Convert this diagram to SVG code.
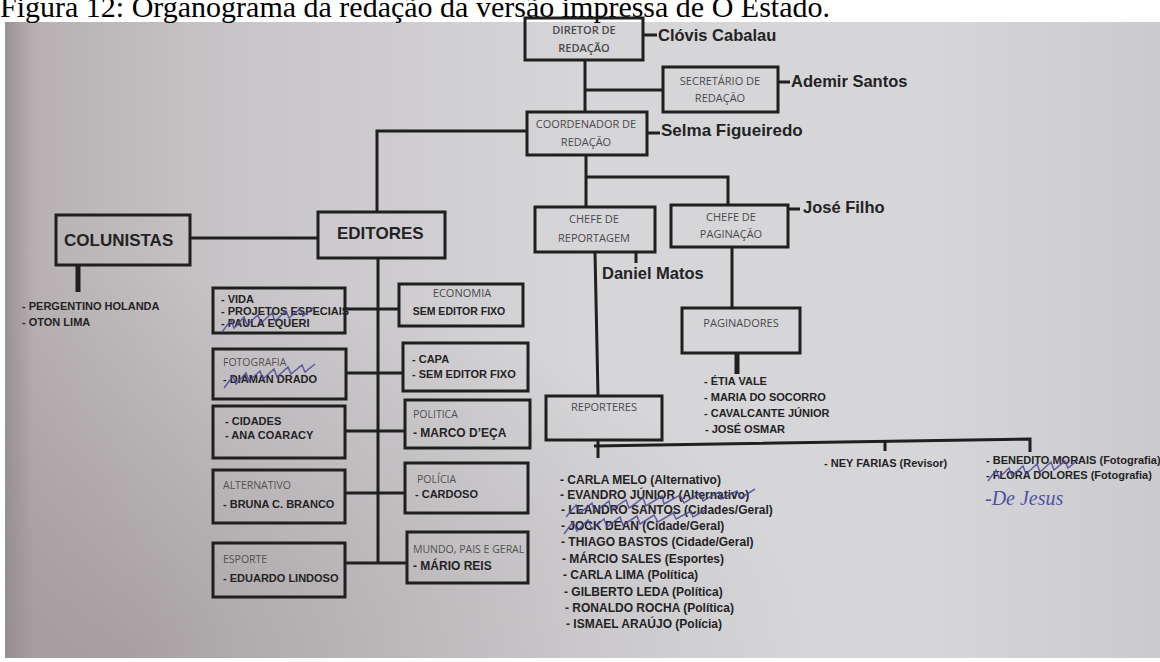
<svg xmlns="http://www.w3.org/2000/svg" width="1160" height="662" viewBox="0 0 1160 662">
<defs>
<linearGradient id="paper" x1="0" y1="0" x2="1" y2="0">
<stop offset="0" stop-color="#9a9294"/>
<stop offset="0.025" stop-color="#b7b1b3"/>
<stop offset="0.2" stop-color="#c8c5c8"/>
<stop offset="0.5" stop-color="#d6d5d8"/>
<stop offset="0.8" stop-color="#d6d6d9"/>
<stop offset="1" stop-color="#cbcbcf"/>
</linearGradient>
<radialGradient id="vig" cx="0.1" cy="1" r="0.6">
<stop offset="0" stop-color="#8e8688" stop-opacity="0.5"/>
<stop offset="1" stop-color="#8e8688" stop-opacity="0"/>
</radialGradient>
</defs>
<style>
.box{fill:none;stroke:#1f1f1f;stroke-width:3}
.ln{fill:none;stroke:#1f1f1f;stroke-width:3}
.tk{fill:none;stroke:#1f1f1f;stroke-width:5}
.lbl{font-family:"Open Sans","Liberation Sans",sans-serif;font-size:10.5px;fill:#505050}
.lblc{font-family:"Open Sans","Liberation Sans",sans-serif;font-size:11px;fill:#4a4a4a;text-anchor:middle}
.b{font-family:"Liberation Sans",Arial,sans-serif;font-weight:700;fill:#232323}
.nm{font-size:16.5px}
.it{font-size:11px}
.rp{font-size:12px}
.big{font-size:17px}
.scr{fill:none;stroke:#4b4897;stroke-width:1.5;stroke-opacity:0.85}
.cap{font-family:"Liberation Serif","Times New Roman",serif;font-size:30px;fill:#000}
</style>
<rect width="1160" height="662" fill="#ffffff"/>
<rect x="5" y="22" width="1155" height="636" fill="url(#paper)"/>
<rect x="5" y="22" width="1155" height="636" fill="url(#vig)"/>
<text class="cap" x="0" y="17">Figura 12: Organograma da redação da versão impressa de O Estado.</text>

<g id="connectors">
<path class="ln" d="M585,60 V112"/>
<path class="ln" d="M585,90 H663"/>
<path class="ln" d="M643,35 H657"/>
<path class="ln" d="M778,82 H790"/>
<path class="ln" d="M647,133 H660"/>
<path class="ln" d="M527,131 H377 V212"/>
<path class="ln" d="M586,155 V207"/>
<path class="ln" d="M586,177 H728 V205"/>
<path class="ln" d="M788,209 H800"/>
<path class="ln" d="M636,252 V263"/>
<path class="ln" d="M595,252 L598,396"/>
<path class="ln" d="M732,247 V308"/>
<path class="tk" d="M737,353 V374"/>
<path class="ln" d="M190,238 H318"/>
<path class="tk" d="M78,265 V292"/>
<path class="ln" d="M378,258 V563"/>
<path class="ln" d="M345,309 H399"/>
<path class="ln" d="M346,373 H403"/>
<path class="ln" d="M345,431 H405"/>
<path class="ln" d="M345,493 H405"/>
<path class="ln" d="M345,563 H407"/>
<path class="ln" d="M598,440 V458"/>
<path class="ln" d="M594,446 L1030,439 V452"/>
<path class="ln" d="M885,441 V451"/>
</g>

<g id="diretor">
<rect class="box" x="525" y="18" width="118" height="42"/>
<text class="lblc" x="584" y="34" font-weight="600">DIRETOR DE</text>
<text class="lblc" x="584" y="52" font-weight="600">REDAÇÃO</text>
<text class="b nm" x="658" y="41">Clóvis Cabalau</text>
</g>

<g id="secretario">
<rect class="box" x="663" y="67" width="115" height="45"/>
<text class="lblc" x="720" y="85">SECRETÁRIO DE</text>
<text class="lblc" x="720" y="102">REDAÇÃO</text>
<text class="b nm" x="791" y="87">Ademir Santos</text>
</g>

<g id="coordenador">
<rect class="box" x="527" y="112" width="120" height="43"/>
<text class="lblc" x="586" y="128">COORDENADOR DE</text>
<text class="lblc" x="586" y="146">REDAÇÃO</text>
<text class="b big" x="661" y="136">Selma Figueiredo</text>
</g>

<g id="chefe-reportagem">
<rect class="box" x="535" y="207" width="120" height="45"/>
<text class="lblc" x="594" y="223">CHEFE DE</text>
<text class="lblc" x="594" y="242">REPORTAGEM</text>
<text class="b nm" x="602" y="279">Daniel Matos</text>
</g>

<g id="chefe-paginacao">
<rect class="box" x="671" y="205" width="117" height="42"/>
<text class="lblc" x="731" y="221">CHEFE DE</text>
<text class="lblc" x="731" y="238">PAGINAÇÃO</text>
<text class="b nm" x="803" y="213">José Filho</text>
</g>

<g id="colunistas">
<rect class="box" x="56" y="215" width="134" height="50"/>
<text class="b big" x="64" y="246">COLUNISTAS</text>
<text class="b it" x="22" y="310">- PERGENTINO HOLANDA</text>
<text class="b it" x="22" y="326">- OTON LIMA</text>
</g>

<g id="editores">
<rect class="box" x="318" y="212" width="127" height="46"/>
<text class="b big" x="337" y="239">EDITORES</text>
</g>

<g id="paginadores">
<rect class="box" x="682" y="308" width="118" height="45"/>
<text class="lblc" x="741" y="327">PAGINADORES</text>
<text class="b it" x="704" y="385">- ÉTIA VALE</text>
<text class="b it" x="704" y="401">- MARIA DO SOCORRO</text>
<text class="b it" x="704" y="417">- CAVALCANTE JÚNIOR</text>
<text class="b it" x="705" y="433">- JOSÉ OSMAR</text>
</g>

<g id="reporteres">
<rect class="box" x="546" y="396" width="116" height="44"/>
<text class="lblc" x="604" y="411">REPORTERES</text>
<text class="b rp" x="560" y="484">- CARLA MELO (Alternativo)</text>
<text class="b rp" x="560" y="499">- EVANDRO JÚNIOR (Alternativo)</text>
<text class="b rp" x="561" y="514">- LEANDRO SANTOS (Cidades/Geral)</text>
<text class="b rp" x="561" y="530">- JOCK DEAN (Cidade/Geral)</text>
<text class="b rp" x="561" y="546">- THIAGO BASTOS (Cidade/Geral)</text>
<text class="b rp" x="562" y="563">- MÁRCIO SALES (Esportes)</text>
<text class="b rp" x="563" y="579">- CARLA LIMA (Política)</text>
<text class="b rp" x="564" y="596">- GILBERTO LEDA (Política)</text>
<text class="b rp" x="565" y="612">- RONALDO ROCHA (Política)</text>
<text class="b rp" x="566" y="628">- ISMAEL ARAÚJO (Polícia)</text>
<path class="scr" d="M566,517 l10,-12 l4,8 l12,-10 l3,9 l14,-11 l2,9 l15,-10 l3,8 l14,-10 l3,8 l16,-10 l2,8 l16,-9 l4,8 l16,-10 l3,8 l16,-9 l2,7 l16,-8 l4,7 l14,-9"/>
<path class="scr" d="M564,534 l9,-12 l4,9 l11,-11 l4,9 l12,-10 l3,8 l13,-10 l3,8 l14,-9 l3,8 l14,-9 l4,7 l15,-9 l3,6 l15,-8 l2,6 l14,-8"/>
<text class="b it" x="824" y="467">- NEY FARIAS (Revisor)</text>
<text class="b it" x="986" y="464">- BENEDITO MORAIS (Fotografia)</text>
<text class="b it" x="986" y="479">- FLORA DOLORES (Fotografia)</text>
<path class="scr" d="M988,481 l8,-11 l3,8 l10,-10 l3,8 l11,-10 l3,8 l11,-10 l3,8 l11,-10 l3,8 l11,-9 l3,7 l10,-8"/>
<text x="985" y="505" font-family="'Liberation Serif',serif" font-style="italic" font-size="20" fill="#4e51a6">-De Jesus</text>
</g>

<g id="vida">
<rect class="box" x="213" y="288" width="132" height="45"/>
<text class="b it" x="221" y="303">- VIDA</text>
<text class="b it" x="221" y="315">- PROJETOS ESPECIAIS</text>
<text class="b it" x="221" y="327">- PAULA EQUERI</text>
<path class="scr" d="M222,332 l9,-12 l3,8 l10,-11 l3,8 l11,-10 l3,8 l11,-10 l3,8 l11,-10 l3,7 l11,-9 l3,7 l10,-8"/>
</g>

<g id="fotografia">
<rect class="box" x="213" y="349" width="133" height="50"/>
<text class="lbl" x="223" y="366">FOTOGRAFIA</text>
<text class="b it" x="223" y="383">- DIAMAN DRADO</text>
<path class="scr" d="M224,388 l9,-12 l3,8 l10,-11 l3,8 l11,-10 l3,8 l11,-10 l3,8 l11,-10 l3,7 l11,-9 l3,7 l10,-8"/>
</g>

<g id="cidades">
<rect class="box" x="213" y="406" width="132" height="52"/>
<text class="b it" x="225" y="425" font-size="11.5">- CIDADES</text>
<text class="b it" x="225" y="439" font-size="11.5">- ANA COARACY</text>
</g>

<g id="alternativo">
<rect class="box" x="213" y="470" width="132" height="53"/>
<text class="lbl" x="223" y="489">ALTERNATIVO</text>
<text class="b it" x="223" y="508" font-size="11.5">- BRUNA C. BRANCO</text>
</g>

<g id="esporte">
<rect class="box" x="213" y="543" width="132" height="54"/>
<text class="lbl" x="223" y="563">ESPORTE</text>
<text class="b it" x="223" y="582" font-size="11.5">- EDUARDO LINDOSO</text>
</g>

<g id="economia">
<rect class="box" x="399" y="284" width="124" height="42"/>
<text class="lblc" x="462" y="297" font-size="10.5">ECONOMIA</text>
<text class="b" x="459" y="315" font-size="10.5" text-anchor="middle">SEM EDITOR FIXO</text>
</g>

<g id="capa">
<rect class="box" x="403" y="343" width="125" height="48"/>
<text class="b it" x="412" y="363">- CAPA</text>
<text class="b it" x="412" y="378">- SEM EDITOR FIXO</text>
</g>

<g id="politica">
<rect class="box" x="405" y="400" width="125" height="48"/>
<text class="lbl" x="413" y="418">POLITICA</text>
<text class="b" x="413" y="437" font-size="12">- MARCO D’EÇA</text>
</g>

<g id="policia">
<rect class="box" x="405" y="463" width="123" height="50"/>
<text class="lbl" x="417" y="483">POLÍCIA</text>
<text class="b it" x="415" y="498">- CARDOSO</text>
</g>

<g id="mundo">
<rect class="box" x="407" y="532" width="121" height="51"/>
<text class="lbl" x="413" y="553">MUNDO, PAIS E GERAL</text>
<text class="b" x="413" y="570" font-size="12">- MÁRIO REIS</text>
</g>
</svg>
